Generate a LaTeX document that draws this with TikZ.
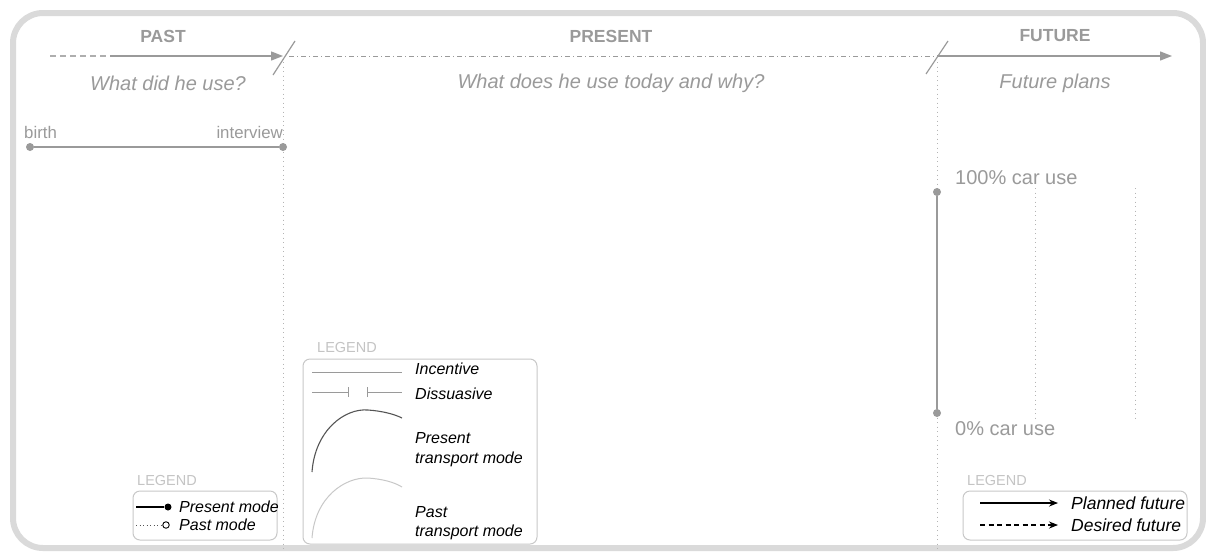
\documentclass[tikz,border=0pt]{standalone}
\usepackage{fontspec}
\setmainfont{Liberation Sans}
\usetikzlibrary{arrows.meta}
\definecolor{axisgray}{HTML}{9A9A9A}
\definecolor{framegray}{HTML}{DADADA}
\definecolor{dotgray}{HTML}{B4B4B4}
\definecolor{leggray}{HTML}{C4C4C4}
\definecolor{boxgray}{HTML}{C8C8C8}
\definecolor{darkline}{HTML}{555555}
\tikzset{
  headlbl/.style={text=axisgray, font=\fontsize{17.5}{19}\selectfont\bfseries, inner sep=0pt},
  questlbl/.style={text=axisgray, font=\fontsize{20}{22}\selectfont\itshape, inner sep=0pt},
  smalllbl/.style={text=axisgray, font=\fontsize{16.8}{18}\selectfont, inner sep=0pt},
  carlbl/.style={text=axisgray, font=\fontsize{20}{22}\selectfont, inner sep=0pt, anchor=west},
  legtitle/.style={text=leggray, font=\fontsize{14.5}{16}\selectfont, inner sep=0pt, anchor=west},
  legtext/.style={text=black, font=\fontsize{16}{18}\selectfont\itshape, inner sep=0pt, anchor=west},
  legbox/.style={draw=boxgray, line width=1pt, rounded corners=7pt},
  vdots/.style={draw=dotgray, line width=1pt, dash pattern=on 1pt off 3.5pt},
  graydot/.style={circle, fill=axisgray, inner sep=0pt, minimum size=8pt},
  tri/.style={-{Triangle[length=12pt,width=9pt]}},
}
\begin{document}
\begin{tikzpicture}[x=1pt,y=-1pt]
\useasboundingbox (0,0) rectangle (1206,552);
\clip (0,0) rectangle (1206,552);
\fill[white] (0,0) rectangle (1206,552);
% frame
\draw[framegray, line width=6pt, rounded corners=30pt] (13,13) rectangle (1203,548);

% vertical dotted separators
\coordinate (sepA) at (283,62);
\coordinate (sepAb) at (283,552);
\coordinate (sepB) at (937,62);
\coordinate (sepBb) at (937,552);
\draw[vdots] (sepA) -- (sepAb);
\draw[vdots] (sepB) -- (sepBb);

% time axis
\coordinate (ax0) at (50,56);
\coordinate (ax1) at (110,56);
\coordinate (ax2) at (283,56);
\coordinate (ax3) at (937,56);
\coordinate (ax4) at (1172,56);
\draw[axisgray!80, line width=1.1pt, dash pattern=on 6pt off 4pt] (ax0) -- (ax1);
\draw[axisgray, line width=1.3pt, tri] (ax1) -- (ax2);
\draw[axisgray, line width=1pt, dash pattern=on 5pt off 3pt on 1pt off 3pt] (289,56) -- (ax3);
\draw[axisgray, line width=1.3pt, tri] (ax3) -- (ax4);
\draw[axisgray, line width=1.2pt] (273,75) -- (295,41);
\draw[axisgray, line width=1.2pt] (926,74) -- (948,41);

% headings
\node[headlbl] (past) at (163,36) {PAST};
\node[headlbl] (present) at (611,36) {PRESENT};
\node[headlbl] (future) at (1055,36) {FUTURE};
\node[questlbl] (q1) at (168,83) {What did he use?};
\node[questlbl] (q2) at (611,83) {What does he use today and why?};
\node[questlbl] (q3) at (1055,83) {Future plans};

% birth - interview
\node[graydot] (birth) at (30,147) {};
\node[graydot] (interview) at (283,147) {};
\draw[axisgray, line width=1.3pt] (birth) -- (interview);
\node[smalllbl, anchor=base west] (birthl) at (24,138) {birth};
\node[smalllbl, anchor=base east] (intl) at (283,138) {interview};

% car use scale
\node[graydot] (top) at (937,192) {};
\node[graydot] (bot) at (937,413) {};
\draw[axisgray, line width=1.5pt] (top) -- (bot);
\node[carlbl] (c100) at (955,178) {100\% car use};
\node[carlbl] (c0) at (955,429) {0\% car use};
\coordinate (d1t) at (1035,188);
\coordinate (d1b) at (1035,418);
\coordinate (d2t) at (1135,188);
\coordinate (d2b) at (1135,418);
\draw[vdots] (d1t) -- (d1b);
\draw[vdots] (d2t) -- (d2b);

% left legend
\node[legtitle] (lgA) at (137,480) {LEGEND};
\draw[legbox] (133,491) rectangle (277,540);
\coordinate (pm0) at (136,507);
\node[circle, fill=black, inner sep=0pt, minimum size=7pt] (pm1) at (168,507) {};
\draw[black, line width=1.2pt] (pm0) -- (pm1);
\node[legtext] (pmt) at (179,507) {Present mode};
\coordinate (pa0) at (136,525);
\node[circle, draw=black, fill=white, line width=0.9pt, inner sep=0pt, minimum size=6.5pt] (pa1) at (166,525) {};
\draw[darkline, line width=0.9pt, dash pattern=on 1pt off 2.5pt] (pa0) -- (pa1);
\node[legtext] (pat) at (179,525) {Past mode};

% center legend
\node[legtitle] (lgB) at (317,348) {LEGEND};
\draw[legbox] (303,359) rectangle (537,544);
\coordinate (in0) at (312,372);
\coordinate (in1) at (402,372);
\draw[axisgray, line width=1pt] (in0) -- (in1);
\node[legtext] (int) at (415,369) {Incentive};
\coordinate (ds0) at (312,392);
\coordinate (ds1) at (349,392);
\coordinate (ds2) at (367,392);
\coordinate (ds3) at (402,392);
\draw[axisgray, line width=1pt, -{Bar[width=10pt]}] (ds0) -- (ds1);
\draw[axisgray, line width=1pt, {Bar[width=10pt]}-] (ds2) -- (ds3);
\node[legtext] (dst) at (415,394) {Dissuasive};
\draw[darkline, line width=1.1pt] (312,472) .. controls (315,430) and (345,408) .. (368,410) .. controls (382,411) and (394,414) .. (402,418);
\node[legtext] (prt1) at (415,438) {Present};
\node[legtext] (prt2) at (415,459) {transport mode};
\draw[boxgray, line width=1pt] (312,538) .. controls (315,497) and (345,477) .. (368,478) .. controls (382,479) and (394,482) .. (402,487);
\node[legtext] (pst1) at (415,512) {Past};
\node[legtext] (pst2) at (415,532) {transport mode};

% right legend
\node[legtitle] (lgC) at (967,480) {LEGEND};
\draw[legbox] (963,491) rectangle (1187,540);
\coordinate (pf0) at (980,503);
\coordinate (pf1) at (1058,503);
\draw[black, line width=1.2pt, -{Stealth[length=9pt,width=7pt]}] (pf0) -- (pf1);
\node[legtext, font=\fontsize{17.5}{19}\selectfont\itshape] (pft) at (1071,503) {Planned future};
\coordinate (df0) at (980,525);
\coordinate (df1) at (1058,525);
\draw[black, line width=1.2pt, dash pattern=on 5pt off 3.5pt, -{Stealth[length=9pt,width=7pt]}] (df0) -- (df1);
\node[legtext, font=\fontsize{17.5}{19}\selectfont\itshape] (dft) at (1071,525) {Desired future};
\end{tikzpicture}
\end{document}
